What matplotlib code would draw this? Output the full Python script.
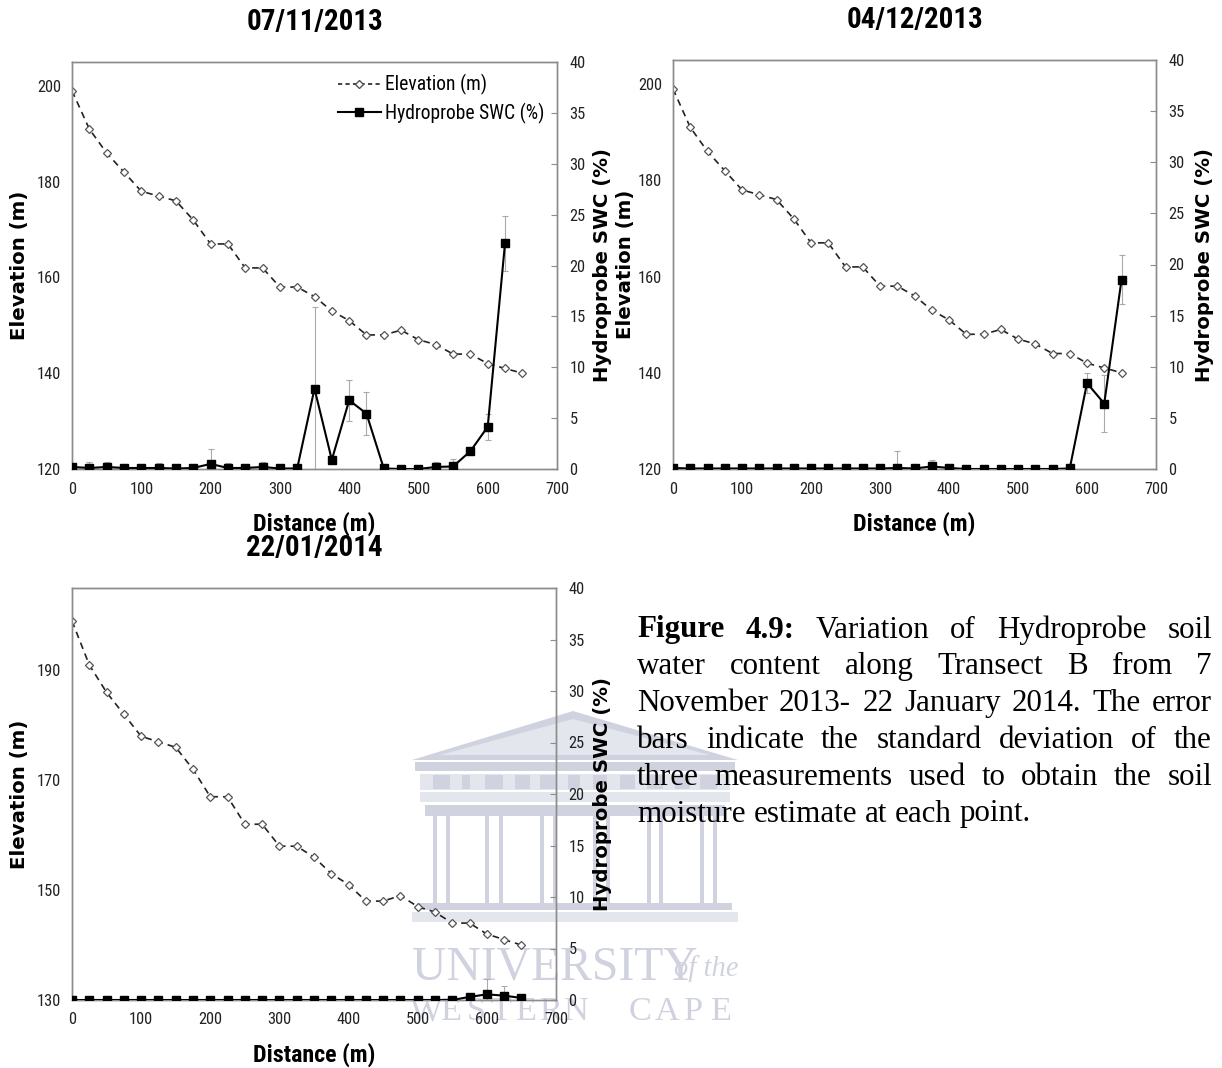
import os
import matplotlib
matplotlib.use('Agg')
import matplotlib.pyplot as plt
import matplotlib.font_manager as fm
from matplotlib.font_manager import FontProperties
from matplotlib.patches import Polygon
from matplotlib.lines import Line2D

W, H = 1222, 1068

# ---------------- data ----------------
distance = [0, 25, 50, 75, 100, 125, 150, 175, 200, 225, 250, 275, 300, 325,
            350, 375, 400, 425, 450, 475, 500, 525, 550, 575, 600, 625, 650]
elevation = [199, 191, 186, 182, 178, 177, 176, 172, 167, 167, 162, 162, 158, 158,
             156, 153, 151, 148, 148, 149, 147, 146, 144, 144, 142, 141, 140]

# 07/11/2013 (measured 0-625 m)
swc_nov = [0.2, 0.1, 0.2, 0.1, 0.1, 0.1, 0.05, 0.1, 0.5, 0.1, 0.1, 0.2, 0.05, 0.05,
           7.9, 0.9, 6.75, 5.45, 0.05, 0.0, 0.0, 0.2, 0.25, 1.75, 4.15, 22.2]
sd_nov = [0.2, 0.6, 0.5, 0.4, 0.2, 0.5, 0.2, 0.2, 1.5, 0.5, 0.3, 0.5, 0.2, 0.2,
          8.0, 0.3, 2.0, 2.1, 0.3, 0.1, 0.1, 0.45, 0.75, 0.3, 1.3, 2.7]

# 04/12/2013
swc_dec = [0.1, 0.05, 0.05, 0.05, 0.05, 0.05, 0.05, 0.05, 0.05, 0.05, 0.05, 0.05, 0.05, 0.1,
           0.05, 0.25, 0.1, 0.0, 0.0, 0.0, 0.0, 0.0, 0.0, 0.05, 8.4, 6.4, 18.5]
sd_dec = [0.1, 0.1, 0.1, 0.1, 0.1, 0.1, 0.1, 0.1, 0.1, 0.1, 0.1, 0.1, 0.1, 1.7,
          0.1, 0.6, 0.2, 0.1, 0.1, 0.1, 0.1, 0.1, 0.1, 0.1, 1.0, 2.8, 2.4]

# 22/01/2014
swc_jan = [0, 0, 0, 0, 0, 0, 0, 0, 0, 0, 0, 0, 0, 0,
           0, 0, 0, 0, 0, 0, 0, 0, 0, 0.3, 0.55, 0.42, 0.2]
sd_jan = [0, 0, 0, 0, 0, 0, 0, 0, 0, 0, 0, 0, 0, 0,
          0, 0, 0, 0, 0, 0, 0, 0, 0, 0.2, 1.5, 0.9, 0.1]

titles = ['07/11/2013', '04/12/2013', '22/01/2014']
x_ticks = [0, 100, 200, 300, 400, 500, 600, 700]
swc_ticks = [0, 5, 10, 15, 20, 25, 30, 35, 40]

# ---------------- fonts: look for a narrow sans (Calibri-like) ----------------
_files = {os.path.basename(e.fname).lower(): e.fname for e in fm.fontManager.ttflist}
_pairs = [('liberationsansnarrow-regular.ttf', 'liberationsansnarrow-bold.ttf'),
          ('notosans-condensed.ttf', 'notosans-condensedbold.ttf'),
          ('robotocondensed-regular.ttf', 'robotocondensed-bold.ttf'),
          ('notosans-semicondensed.ttf', 'notosans-semicondensedbold.ttf'),
          ('opensans-condensed-regular.ttf', 'opensans-condensed-bold.ttf')]
FP_REG = FontProperties(family=['Lato', 'DejaVu Sans'])
FP_BOLD = FontProperties(family=['Lato', 'DejaVu Sans'], weight='bold')
for a, b in _pairs:
    if a in _files and b in _files:
        FP_REG = FontProperties(fname=_files[a])
        FP_BOLD = FontProperties(fname=_files[b])
        break

BOLDY = ['DejaVu Sans']
SERIF = ['Liberation Serif', 'DejaVu Serif']
GRAY = '#8c8c8c'

fig = plt.figure(figsize=(W / 100, H / 100), dpi=100)
renderer = fig.canvas.get_renderer()


def fx(x):
    return x / W


def fy(y):
    return 1 - y / H


def fp(base, size):
    p = base.copy()
    p.set_size(size)
    return p


def width_fit(s, prop, target, base=12.0):
    t = fig.text(0, 0, s, fontproperties=fp(prop, base))
    w = t.get_window_extent(renderer).width
    t.remove()
    return base * target / w


def size_for(s, prop, target_w, cap_px):
    # balance between matching the text width and the glyph height
    wf = width_fit(s, prop, target_w)
    return (wf * cap_px) ** 0.5


TICK_FS = size_for('200', FP_REG, 22.7, 12.5)
TITLE_FS = size_for('22/01/2014', FP_BOLD, 121, 23.5)
XLAB_FS = size_for('Distance (m)', FP_BOLD, 112, 19.0)
LEG_FS = size_for('Hydroprobe SWC (%)', FP_REG, 160, 14.0)


def yfit(s, target, base=12.0):
    t = fig.text(0, 0, s, fontsize=base, family=BOLDY, weight='bold')
    w = t.get_window_extent(renderer).width
    t.remove()
    return base * target / w


YLAB_FS = yfit('Hydroprobe SWC (%)', 233)

# ---------------- watermark (behind everything) ----------------
wm = '#d0d3df'
wm2 = '#e4e6ee'


def wpoly(pts, color, z=-2):
    fig.add_artist(Polygon([(fx(a), fy(b)) for a, b in pts], closed=True,
                           transform=fig.transFigure, facecolor=color,
                           edgecolor='none', zorder=z))


def wrect(x0, y0, x1, y1, color, z=-2):
    wpoly([(x0, y0), (x1, y0), (x1, y1), (x0, y1)], color, z)


wpoly([(412, 760), (573, 711), (738, 760)], wm)
wpoly([(440, 755), (573, 719), (710, 755)], wm2, -1.9)
wrect(415, 762, 735, 771, wm)
wrect(420, 774, 730, 790, wm2)
for bx in [(433, 450), (462, 470), (485, 503), (515, 530), (540, 557), (568, 580),
           (593, 607), (620, 635), (647, 663), (675, 690), (700, 717)]:
    wrect(bx[0], 775, bx[1], 789, wm, -1.8)
wrect(420, 792, 730, 802, wm2)
wrect(425, 805, 725, 816, wm)
for cx in [(433, 450), (485, 503), (540, 557), (593, 610), (647, 663), (700, 717)]:
    wrect(cx[0], 816, cx[0] + 4, 903, wm)
    wrect(cx[1] - 4, 816, cx[1], 903, wm)
wrect(418, 903, 732, 910, wm)
wrect(412, 912, 738, 922, wm2)
uni_t = fig.text(0, 0, 'UNIVERSITY', fontsize=12, family=SERIF)
uni_fs = 12 * 285 / uni_t.get_window_extent(renderer).width
uni_t.remove()
fig.text(fx(412), fy(967), 'UNIVERSITY', color=wm, fontsize=uni_fs, family=SERIF,
         ha='left', va='center', zorder=-1)
fig.text(fx(739), fy(969), 'of the', color=wm, fontsize=uni_fs * 0.6, family=SERIF,
         style='italic', ha='right', va='center', zorder=-1)
wc_x = [426, 451, 476, 501, 526, 551, 576, 640, 667, 694, 721]
for ch, xx in zip('WESTERNCAPE', wc_x):
    fig.text(fx(xx), fy(1012), ch, color=wm, fontsize=uni_fs * 0.72,
             family=SERIF, ha='center', va='center', zorder=-1)


# ---------------- panels ----------------
def make_panel(box, title, swc, sd, ylo, yticks, legend=False,
               title_y=None, left_label_x=20, right_label_x=None,
               xlab_y=None):
    l, t, r, b = box
    ax = fig.add_axes([fx(l), fy(b), fx(r) - fx(l), (b - t) / H])
    ax.set_facecolor('none')
    ax.plot(distance, elevation, linestyle=(0, (4, 3)), color='#222222', lw=1.2,
            marker='D', markersize=4.0, markerfacecolor='white',
            markeredgecolor='#555555', markeredgewidth=0.9, zorder=3)
    ax.set_xlim(0, 700)
    ax.set_ylim(ylo, 205)
    ax.set_xticks(x_ticks)
    ax.set_yticks(yticks)
    for s in ax.spines.values():
        s.set_color(GRAY)
        s.set_linewidth(1.0)
    ax.tick_params(axis='both', length=0, colors='#222222')
    ax.tick_params(axis='x', pad=9)
    ax.tick_params(axis='y', pad=8)
    for lab in ax.get_xticklabels() + ax.get_yticklabels():
        lab.set_fontproperties(fp(FP_REG, TICK_FS))

    ax2 = ax.twinx()
    ax2.set_facecolor('none')
    n = len(swc)
    ax2.errorbar(distance[:n], swc, yerr=sd, fmt='none', ecolor='#aaaaaa',
                 elinewidth=0.8, capsize=2, capthick=0.8, zorder=2)
    ax2.plot(distance[:n], swc, color='black', lw=1.5, marker='s',
             markersize=5.5, zorder=4)
    ax2.set_ylim(0, 40)
    ax2.set_yticks(swc_ticks)
    for s in ax2.spines.values():
        s.set_color(GRAY)
        s.set_linewidth(1.0)
    ax2.tick_params(axis='y', direction='in', length=4, color=GRAY, pad=9,
                    labelcolor='#222222')
    for lab in ax2.get_yticklabels():
        lab.set_fontproperties(fp(FP_REG, TICK_FS))

    cx = (l + r) / 2
    fig.text(fx(cx), fy(title_y), title, ha='center', va='center',
             fontproperties=fp(FP_BOLD, TITLE_FS))
    fig.text(fx(cx), fy(xlab_y), 'Distance (m)', ha='center', va='center',
             fontproperties=fp(FP_BOLD, XLAB_FS))
    fig.text(fx(left_label_x), fy((t + b) / 2), 'Elevation (m)', rotation=90,
             ha='center', va='center', fontsize=YLAB_FS, weight='bold', family=BOLDY)
    fig.text(fx(right_label_x), fy((t + b) / 2), 'Hydroprobe SWC (%)', rotation=90,
             ha='center', va='center', fontsize=YLAB_FS, weight='bold', family=BOLDY)

    if legend:
        handles = [
            Line2D([], [], linestyle=(0, (2.5, 2)), color='#222222', lw=1.2, marker='D',
                   markersize=4.0, markerfacecolor='white', markeredgecolor='#555555'),
            Line2D([], [], color='black', lw=1.5, marker='s', markersize=5.5)]
        ax2.legend(handles, ['Elevation (m)', 'Hydroprobe SWC (%)'],
                   loc='upper left', bbox_to_anchor=(fx(338), fy(74)),
                   bbox_transform=fig.transFigure,
                   frameon=False, handlelength=2.2, handletextpad=0.2,
                   labelspacing=0.4, borderaxespad=0.0, borderpad=0.0,
                   prop=fp(FP_REG, LEG_FS))
    return ax, ax2


make_panel((72, 62, 557, 469), titles[0], swc_nov, sd_nov, 120,
           [120, 140, 160, 180, 200], legend=True, title_y=22,
           left_label_x=20, right_label_x=603, xlab_y=524)
make_panel((673, 60, 1156, 469), titles[1], swc_dec, sd_dec, 120,
           [120, 140, 160, 180, 200], title_y=20,
           left_label_x=626, right_label_x=1205, xlab_y=524)
make_panel((72, 588, 556, 1000), titles[2], swc_jan, sd_jan, 130,
           [130, 150, 170, 190], title_y=548,
           left_label_x=20, right_label_x=603, xlab_y=1055)

# ---------------- caption (justified) ----------------
caption_lines = [
    [('Figure', 'bold'), ('4.9:', 'bold'), ('Variation', 'normal'), ('of', 'normal'),
     ('Hydroprobe', 'normal'), ('soil', 'normal')],
    'water content along Transect B from 7',
    'November 2013- 22 January 2014. The error',
    'bars indicate the standard deviation of the',
    'three measurements used to obtain the soil',
    'moisture estimate at each point.',
]
cap_x0, cap_x1 = 637, 1212
cap_y0, cap_dy = 630, 36.8
cap_size = 22.3
t_ab = fig.text(0, 0, 'a b', fontsize=cap_size, family=SERIF)
t_a = fig.text(0, 0, 'ab', fontsize=cap_size, family=SERIF)
space_w = t_ab.get_window_extent(renderer).width - t_a.get_window_extent(renderer).width
t_ab.remove()
t_a.remove()
for i, line in enumerate(caption_lines):
    if isinstance(line, str):
        words = [(w, 'normal') for w in line.split()]
    else:
        words = line
    y = fy(cap_y0 + i * cap_dy)
    texts = [fig.text(0, y, w, fontsize=cap_size, family=SERIF, weight=wt,
                      ha='left', va='center') for w, wt in words]
    widths = [tt.get_window_extent(renderer).width for tt in texts]
    if i == len(caption_lines) - 1:
        gap = space_w
    else:
        gap = (cap_x1 - cap_x0 - sum(widths)) / (len(words) - 1)
    xpos = cap_x0
    for tt, wdt in zip(texts, widths):
        tt.set_x(fx(xpos))
        xpos += wdt + gap

fig.savefig('out.png', dpi=100)
